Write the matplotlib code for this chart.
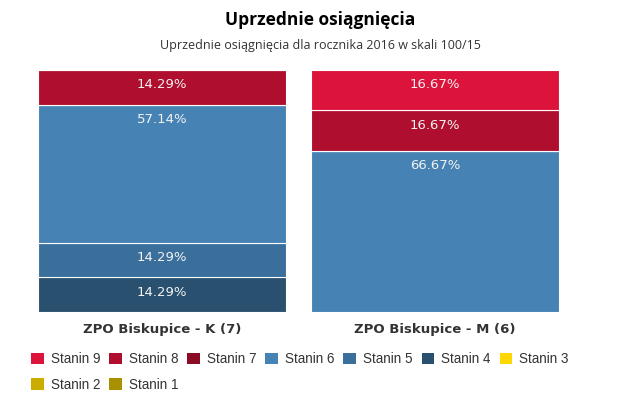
import matplotlib
matplotlib.use("Agg")
import matplotlib.pyplot as plt
from matplotlib.patches import Patch
import numpy as np

categories = ["ZPO Biskupice - K (7)", "ZPO Biskupice - M (6)"]
series_names = ["Stanin 9", "Stanin 8", "Stanin 7", "Stanin 6", "Stanin 5",
                "Stanin 4", "Stanin 3", "Stanin 2", "Stanin 1"]
series_colors = ["#DC143C", "#AF0E2E", "#8B0A24", "#4682B4", "#3A6F9C",
                 "#29506F", "#FFD700", "#CCAC00", "#AA9000"]
# values per series (same order as series_names), for each category
values = {
    "Stanin 9": [0.0, 16.67],
    "Stanin 8": [14.29, 16.67],
    "Stanin 7": [0.0, 0.0],
    "Stanin 6": [57.14, 66.67],
    "Stanin 5": [14.29, 0.0],
    "Stanin 4": [14.29, 0.0],
    "Stanin 3": [0.0, 0.0],
    "Stanin 2": [0.0, 0.0],
    "Stanin 1": [0.0, 0.0],
}

W, H = 641, 409
fig = plt.figure(figsize=(W / 100, H / 100), dpi=100)
ax = fig.add_axes([25 / W, 1 - 312 / H, (572 - 25) / W, (312 - 70) / H])

x = np.arange(len(categories))
bottom = np.zeros(len(categories))
for name, color in zip(reversed(series_names), reversed(series_colors)):
    vals = np.array(values[name])
    ax.bar(x, vals, width=0.905, bottom=bottom, color=color,
           edgecolor="white", linewidth=0.8)
    for xi, v, b in zip(x, vals, bottom):
        if v > 0:
            ax.annotate(f"{v:.2f}%", xy=(xi, b + v), xytext=(0, -6),
                        textcoords="offset points", ha="center", va="top",
                        fontsize=9.5, color="#f2f2f2", family="DejaVu Sans")
    bottom += vals

ax.set_xlim(-0.5, 1.5)
ax.set_ylim(0, 100)
for s in ax.spines.values():
    s.set_visible(False)
ax.set_yticks([])
ax.set_xticks(x)
ax.set_xticklabels(categories, fontsize=9.5, fontweight="bold", color="#333333",
                   family="DejaVu Sans")
ax.tick_params(axis="x", length=0, pad=8)

fig.text(320 / W, 1 - 20 / H, "Uprzednie osiągnięcia", ha="center", va="center",
         fontsize=12.5, fontweight="bold", family="Open Sans", color="#000000")
fig.text(320 / W, 1 - 46 / H, "Uprzednie osiągnięcia dla rocznika 2016 w skali 100/15",
         ha="center", va="center", fontsize=9, family="Open Sans", color="#333333")

# legend laid out row-major (matplotlib fills columns first)
ncol = 7
order = [0, 7, 1, 8, 2, 3, 4, 5, 6]
handles = [Patch(facecolor=series_colors[i], edgecolor="none") for i in order]
labels = [series_names[i] for i in order]
leg = fig.legend(handles, labels, loc="upper left",
                 bbox_to_anchor=(31 / W, 1 - 352 / H), ncol=ncol, frameon=False,
                 prop={"family": "Liberation Sans", "size": 9.75},
                 handlelength=0.95, handleheight=0.95, handletextpad=0.5,
                 columnspacing=0.66, labelspacing=0.85, borderaxespad=0,
                 borderpad=0)
for t in leg.get_texts():
    t.set_color("#333333")

fig.savefig("out.png", dpi=100)
